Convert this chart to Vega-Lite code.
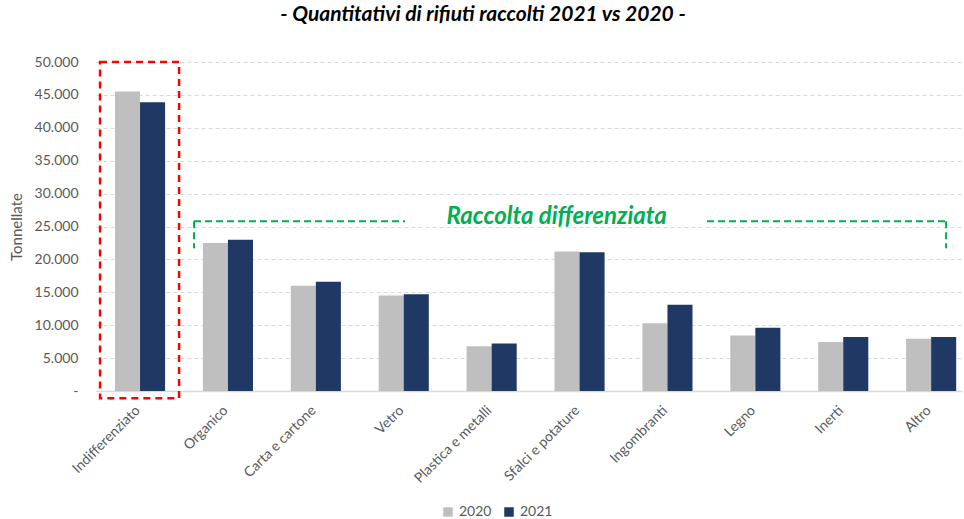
{
  "$schema": "https://vega.github.io/schema/vega-lite/v6.json",
  "width": 866,
  "height": 329,
  "autosize": {"type": "none"},
  "padding": {"left": 96, "top": 62, "right": 2, "bottom": 128},
  "background": "white",
  "title": {
    "text": "- Quantitativi di rifiuti raccolti 2021 vs 2020 -",
    "font": "Lato", "fontSize": 21, "fontStyle": "italic", "fontWeight": "bold",
    "color": "#000000", "anchor": "middle", "dx": -46, "offset": 30
  },
  "config": {
    "view": {"stroke": null},
    "font": "Lato",
    "axis": {"titleFontSize": 15},
    "axisY": {"titleFontSize": 15, "titleFontWeight": "normal", "titleColor": "#595959", "titleFont": "Lato"}
  },
  "encoding": {
    "y": {
      "field": "v", "type": "quantitative",
      "scale": {"domain": [0, 50000], "nice": false, "zero": true},
      "axis": {
        "title": "Tonnellate", "titleFont": "Lato", "titleFontSize": 15, "titleFontWeight": "normal",
        "titleColor": "#595959", "titlePadding": 10,
        "values": [0, 5000, 10000, 15000, 20000, 25000, 30000, 35000, 40000, 45000, 50000],
        "labelExpr": "datum.value == 0 ? '-' : replace(format(datum.value, ','), ',', '.')",
        "labelFontSize": 14, "labelColor": "#595959", "labelPadding": 18,
        "ticks": false, "domain": false, "grid": true, "gridColor": "#D9D9D9",
        "gridDash": [4, 3], "gridWidth": 1
      }
    }
  },
  "layer": [
    {
      "data": {"values": [
        {"cat": "Indifferenziato", "year": "2020", "v": 45500},
        {"cat": "Indifferenziato", "year": "2021", "v": 43900},
        {"cat": "Organico", "year": "2020", "v": 22500},
        {"cat": "Organico", "year": "2021", "v": 23000},
        {"cat": "Carta e cartone", "year": "2020", "v": 16000},
        {"cat": "Carta e cartone", "year": "2021", "v": 16600},
        {"cat": "Vetro", "year": "2020", "v": 14500},
        {"cat": "Vetro", "year": "2021", "v": 14700},
        {"cat": "Plastica e metalli", "year": "2020", "v": 6800},
        {"cat": "Plastica e metalli", "year": "2021", "v": 7200},
        {"cat": "Sfalci e potature", "year": "2020", "v": 21200},
        {"cat": "Sfalci e potature", "year": "2021", "v": 21100},
        {"cat": "Ingombranti", "year": "2020", "v": 10300},
        {"cat": "Ingombranti", "year": "2021", "v": 13100},
        {"cat": "Legno", "year": "2020", "v": 8450},
        {"cat": "Legno", "year": "2021", "v": 9600},
        {"cat": "Inerti", "year": "2020", "v": 7450},
        {"cat": "Inerti", "year": "2021", "v": 8200},
        {"cat": "Altro", "year": "2020", "v": 7950},
        {"cat": "Altro", "year": "2021", "v": 8200}
      ]},
      "mark": {"type": "bar"},
      "encoding": {
        "x": {
          "field": "cat", "type": "nominal", "sort": null,
          "scale": {"paddingInner": 0.43, "paddingOuter": 0.141, "align": 0.766},
          "axis": {
            "title": null, "labelAngle": -45, "labelFontSize": 14, "labelColor": "#595959",
            "ticks": false, "domainColor": "#D9D9D9", "domainWidth": 1.5,
            "labelPadding": 12, "labelOffset": -7
          }
        },
        "xOffset": {"field": "year", "type": "nominal", "scale": {"paddingInner": 0, "paddingOuter": 0}},
        "color": {
          "field": "year", "type": "nominal",
          "scale": {"domain": ["2020", "2021"], "range": ["#BFBFBF", "#1F3864"]},
          "legend": {
            "title": null, "orient": "none", "legendX": 345, "legendY": 443,
            "direction": "horizontal", "symbolType": "square",
            "symbolSize": 90, "labelFontSize": 14, "labelColor": "#595959",
            "columnPadding": 10, "symbolStrokeWidth": 0
          }
        }
      }
    },
    {
      "data": {"values": [{"x": -0.455, "x2": 0.444, "v": 50000, "v2": -1100}]},
      "mark": {"type": "rect", "fillOpacity": 0, "stroke": "#FF0000", "strokeWidth": 2.5, "strokeDash": [7, 5]},
      "encoding": {
        "x": {"field": "x", "type": "quantitative", "scale": {"domain": [-0.5011, 9.351], "nice": false, "zero": false}, "axis": null},
        "x2": {"field": "x2"},
        "y2": {"field": "v2"}
      }
    },
    {
      "data": {"values": [
        {"x": 0.614, "x2": 3.015, "v": 25800, "v2": 25800},
        {"x": 6.45, "x2": 9.17, "v": 25800, "v2": 25800},
        {"x": 0.614, "x2": 0.614, "v": 25800, "v2": 21700},
        {"x": 9.17, "x2": 9.17, "v": 25800, "v2": 21700}
      ]},
      "mark": {"type": "rule", "stroke": "#00B050", "strokeWidth": 2, "strokeDash": [7, 4]},
      "encoding": {
        "x": {"field": "x", "type": "quantitative", "scale": {"domain": [-0.5011, 9.351], "nice": false, "zero": false}, "axis": null},
        "x2": {"field": "x2"},
        "y2": {"field": "v2"}
      }
    },
    {
      "data": {"values": [{"x": 4.74, "v": 26400, "label": "Raccolta differenziata"}]},
      "mark": {"type": "text", "font": "Lato", "fontSize": 24, "fontStyle": "italic", "fontWeight": "bold",
               "fill": "#00B050", "align": "center", "baseline": "middle"},
      "encoding": {
        "x": {"field": "x", "type": "quantitative", "scale": {"domain": [-0.5011, 9.351], "nice": false, "zero": false}, "axis": null},
        "text": {"field": "label"}
      }
    }
  ],
  "resolve": {"scale": {"x": "independent"}}
}
